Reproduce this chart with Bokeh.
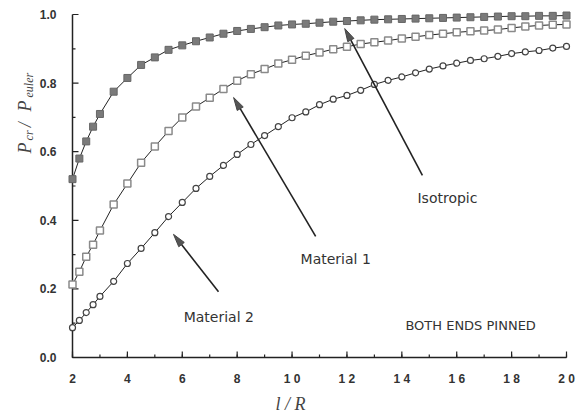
import math
from bokeh.plotting import figure
from bokeh.models import Range1d, FixedTicker, Label, LinearAxis
from bokeh.embed import file_html
from bokeh.resources import INLINE

# ---- data ----
lr = [2, 2.25, 2.5, 2.75, 3, 3.5, 4, 4.5, 5, 5.5, 6, 6.5, 7, 7.5, 8, 8.5, 9, 9.5,
      10, 10.5, 11, 11.5, 12, 12.5, 13, 13.5, 14, 14.5, 15, 15.5, 16, 16.5, 17,
      17.5, 18, 18.5, 19, 19.5, 20]
isotropic = [0.52, 0.58, 0.63, 0.673, 0.71, 0.775, 0.815, 0.853, 0.875, 0.897, 0.91,
             0.922, 0.933, 0.944, 0.952, 0.958, 0.963, 0.968, 0.971, 0.973, 0.976,
             0.979, 0.981, 0.983, 0.985, 0.986, 0.987, 0.988, 0.989, 0.990, 0.991,
             0.992, 0.993, 0.994, 0.995, 0.995, 0.996, 0.996, 0.997]
material1 = [0.213, 0.25, 0.294, 0.329, 0.37, 0.446, 0.507, 0.568, 0.615, 0.66, 0.70,
             0.732, 0.757, 0.783, 0.807, 0.826, 0.841, 0.857, 0.868, 0.88, 0.889,
             0.899, 0.906, 0.914, 0.919, 0.924, 0.93, 0.935, 0.94, 0.944, 0.948,
             0.951, 0.953, 0.956, 0.961, 0.965, 0.968, 0.97, 0.971]
material2 = [0.087, 0.108, 0.131, 0.154, 0.178, 0.222, 0.274, 0.318, 0.364, 0.411,
             0.452, 0.493, 0.528, 0.56, 0.592, 0.621, 0.647, 0.673, 0.699, 0.716,
             0.737, 0.753, 0.764, 0.779, 0.796, 0.808, 0.818, 0.83, 0.841, 0.85,
             0.858, 0.866, 0.871, 0.878, 0.886, 0.891, 0.895, 0.902, 0.907]
x_ticks = [2, 4, 6, 8, 10, 12, 14, 16, 18, 20]
x_minor = list(range(2, 21))
x_tick_labels = ["2", "4", "6", "8", "1 0", "1 2", "1 4", "1 6", "1 8", "2 0"]
y_ticks = [0.0, 0.2, 0.4, 0.6, 0.8, 1.0]
y_minor = [0.1, 0.3, 0.5, 0.7, 0.9]
y_tick_labels = ["0.0", "0.2", "0.4", "0.6", "0.8", "1.0"]

# annotations: (text, x, y)
notes = [("Isotropic", 14.57, 0.466), ("Material 1", 10.31, 0.286),
         ("Material 2", 6.05, 0.117), ("BOTH ENDS PINNED", 14.13, 0.093)]
# arrows: (x_tail, y_tail, x_head, y_head)
arrows = [(14.75, 0.531, 11.92, 0.959), (10.86, 0.353, 7.87, 0.758),
          (7.32, 0.192, 5.68, 0.359)]

# frame fills the whole canvas; axes are drawn at fixed data locations
W, H = 578, 414
left, right, top, bottom = 72, 12, 14, 57
x0, x1 = x_ticks[0], x_ticks[-1]
y0, y1 = y_ticks[0], y_ticks[-1]
kx = (W - left - right) / (x1 - x0)   # pixels per x unit
ky = (H - top - bottom) / (y1 - y0)   # pixels per y unit
p = figure(width=W, height=H, output_backend="svg", toolbar_location=None,
           x_range=Range1d(x0 - left / kx, x1 + right / kx),
           y_range=Range1d(y0 - bottom / ky, y1 + top / ky),
           x_axis_location=None, y_axis_location=None,
           min_border_left=0, min_border_right=0, min_border_top=0,
           min_border_bottom=0)
p.outline_line_color = "white"
p.grid.visible = False
p.background_fill_color = "white"
p.border_fill_color = "white"

xaxis = LinearAxis(fixed_location=y0, bounds=(x0, x1),
                   ticker=FixedTicker(ticks=x_ticks, minor_ticks=x_minor),
                   major_label_overrides={t: l for t, l in zip(x_ticks, x_tick_labels)})
yaxis = LinearAxis(fixed_location=x0, bounds=(y0, y1),
                   ticker=FixedTicker(ticks=y_ticks, minor_ticks=y_minor),
                   major_label_overrides={t: l for t, l in zip(y_ticks, y_tick_labels)})
for ax in (xaxis, yaxis):
    ax.axis_line_color = None
    ax.major_tick_line_color = None
    ax.minor_tick_line_color = None
    ax.major_label_text_font = "Liberation Sans"
    ax.major_label_text_font_style = "bold"
    ax.major_label_text_font_size = "12px"
    ax.major_label_text_color = "#333333"
yaxis.major_label_standoff = 10
xaxis.major_label_standoff = 8
p.add_layout(xaxis, "below")
p.add_layout(yaxis, "left")

# axis rules (L shape) and inward ticks
AX = "#222222"
p.line([x1, x0, x0], [y0, y0, y1], line_color=AX, line_width=1.5)
p.ray(x=x_ticks, y=[y0] * len(x_ticks), length=6, length_units="screen",
      angle=90, angle_units="deg", line_color=AX, line_width=1.2)
p.ray(x=x_minor, y=[y0] * len(x_minor), length=3, length_units="screen",
      angle=90, angle_units="deg", line_color=AX, line_width=1.2)
p.ray(x=[x0] * len(y_ticks), y=y_ticks, length=6, length_units="screen",
      angle=0, angle_units="deg", line_color=AX, line_width=1.2)
p.ray(x=[x0] * len(y_minor), y=y_minor, length=3, length_units="screen",
      angle=0, angle_units="deg", line_color=AX, line_width=1.2)

# series (markers drawn as rect / circle glyphs in screen units)
p.line(lr, material2, line_color="#222222", line_width=1)
p.circle(lr, material2, radius=3, radius_units="screen", fill_color="white",
         line_color="#444444", line_width=1.2)
p.line(lr, material1, line_color="#222222", line_width=1)
p.rect(lr, material1, width=7, height=7, width_units="screen",
       height_units="screen", fill_color="white", line_color="#8a8a8a",
       line_width=1.5)
p.line(lr, isotropic, line_color="#222222", line_width=1)
p.rect(lr, isotropic, width=7, height=7, width_units="screen",
       height_units="screen", fill_color="#7a7a7a", line_color="#666666",
       line_width=1)

# arrows drawn as glyphs: shaft segment + narrow filled head
HEAD_LEN, HEAD_W = 13, 7
sx0, sy0, sx1, sy1, hx, hy = [], [], [], [], [], []
for xt, yt, xh, yh in arrows:
    dx, dy = (xh - xt) * kx, (yh - yt) * ky
    L = math.hypot(dx, dy)
    ux, uy = dx / L, dy / L
    bx, by = xh - HEAD_LEN * ux / kx, yh - HEAD_LEN * uy / ky
    sx0.append(xt); sy0.append(yt); sx1.append(bx); sy1.append(by)
    px, py = -uy * HEAD_W / 2, ux * HEAD_W / 2
    hx.append([xh, bx + px / kx, bx - px / kx])
    hy.append([yh, by + py / ky, by - py / ky])
p.segment(sx0, sy0, sx1, sy1, line_color="#222222", line_width=1.6)
p.patches(hx, hy, fill_color="#555555", line_color="#444444", line_width=1)

for txt, x, y in notes:
    p.add_layout(Label(x=x, y=y, text=txt, text_font="DejaVu Sans",
                       text_font_size="14px" if txt != "BOTH ENDS PINNED" else "13px",
                       text_color="#333333", text_baseline="alphabetic",
                       text_align="left"))

# y axis label: P_cr / P_euler (rotated, with subscripts)
ylab = [("P", 0.287, 0.595, "18px"), ("cr", 0.433, 0.633, "12px"),
        ("/", 0.287, 0.671, "18px"), ("P", 0.287, 0.717, "18px"),
        ("euler", 0.433, 0.758, "12px")]
for txt, x, y, fs in ylab:
    p.add_layout(Label(x=x, y=y, text=txt, angle=90, angle_units="deg",
                       text_font="Liberation Serif", text_font_style="italic",
                       text_font_size=fs, text_color="#444444",
                       text_baseline="alphabetic", text_align="left"))

# x axis label: l/R
p.add_layout(Label(x=9.40, y=-0.137, text="l / R", text_font="Liberation Serif",
                   text_font_style="italic", text_font_size="18px",
                   text_color="#444444", text_baseline="alphabetic",
                   text_align="left"))

open("out.html", "w").write(file_html(p, INLINE))
